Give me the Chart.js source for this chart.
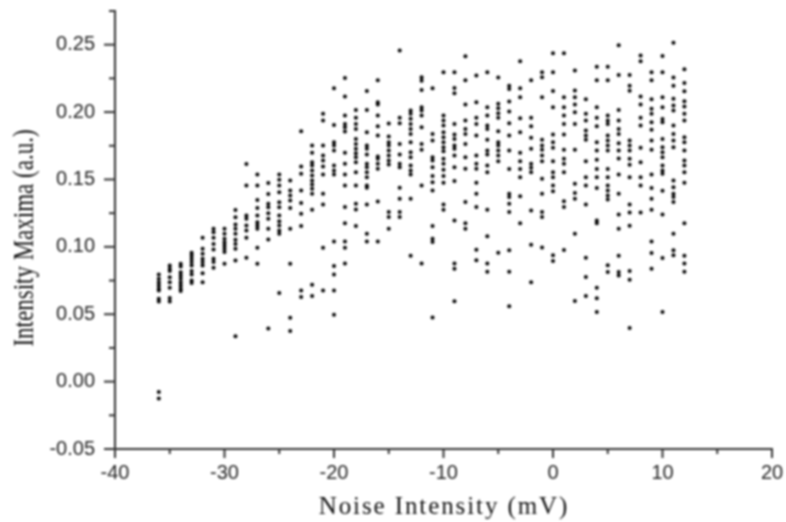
<!DOCTYPE html>
<html>
<head>
<meta charset="utf-8">
<style>
  html, body { margin: 0; padding: 0; background: #fff; }
  #wrap { width: 786px; height: 522px; }
  canvas { filter: blur(0.9px); }
</style>
<script src="https://cdn.jsdelivr.net/npm/chart.js@4"></script>
</head>
<body>
<div id="wrap"><canvas id="chart" width="786" height="522"></canvas></div>
<script>
// noise levels (mV), one column of maxima for each
const noiseLevels = [-36,-35,-34,-33,-32,-31,-30,-29,-28,-27,-26,-25,-24,-23,-22,-21,-20,-19,-18,-17,-16,-15,-14,-13,-12,-11,-10,-9,-8,-7,-6,-5,-4,-3,-2,-1,0,1,2,3,4,5,6,7,8,9,10,11,12];

const maxima = [
  [.0795,.0763,.0738,.0714,.0689,.0677,.0615,.0595,-.0077,-.0126],
  [.0862,.0837,.082,.0775,.0738,.0696,.062,.0595],
  [.0874,.0854,.0812,.0788,.0763,.0738,.0714,.0689,.0672],
  [.0956,.0936,.0911,.0887,.0862,.082,.0795,.0751,.0731],
  [.1067,.0985,.0948,.0911,.0887,.0862,.0805,.0738],
  [.1134,.1109,.1067,.1022,.098,.0911,.0887,.0845],
  [.1134,.1097,.106,.1035,.101,.0985,.0961,.0874],
  [.1274,.122,.1166,.1134,.1097,.1052,.1022,.0985,.0899,.0336],
  [.1615,.1455,.1232,.1208,.1158,.1121,.1067,.0919],
  [.1536,.1455,.1348,.1289,.1232,.1183,.1158,.1134,.0993,.0874],
  [.1474,.1393,.1319,.1294,.125,.1208,.1134,.1055,.0395],
  [.1536,.1497,.1455,.1405,.1331,.1294,.1232,.119,.1158,.1121,.1097,.0657],
  [.1492,.1418,.1381,.1344,.1289,.1134,.0874,.0474,.0375],
  [.1858,.1596,.1542,.1418,.1325,.1246,.1154,.0677,.0628],
  [.1752,.1698,.1628,.1604,.1567,.153,.1493,.1463,.1431,.1394,.1275,.0719,.0635],
  [.1987,.1937,.1752,.1678,.1641,.1596,.1537,.1394,.1315,.0994,.0677],
  [.2177,.1905,.1777,.1752,.1715,.1604,.1567,.1537,.104,.0858,.0794,.0677,.0497],
  [.2253,.2115,.1974,.1912,.1888,.1856,.1698,.1616,.1537,.1455,.1295,.1176,.104,.0994,.0877],
  [.2016,.1957,.1912,.1875,.1801,.1764,.1727,.1695,.1665,.1628,.1554,.1455,.132,.1278,.1154],
  [.2157,.2016,.1851,.1752,.1727,.1685,.1616,.1591,.1554,.1517,.1455,.1438,.1315,.1097,.104],
  [.2236,.2073,.2056,.1974,.1895,.1826,.167,.1653,.1616,.1579,.1337,.104],
  [.1915,.1819,.1777,.1752,.1715,.1678,.1641,.1611,.1258,.1221,.1134],
  [.2456,.1957,.1917,.1764,.1685,.1616,.1591,.1438,.1357,.1258,.1221],
  [.2011,.1987,.195,.1912,.1875,.1838,.1777,.1702,.1665,.1604,.1567,.1537,.1357,.0934],
  [.2258,.2233,.2164,.2036,.2011,.1974,.1888,.1764,.172,.1455,.0877],
  [.2177,.1838,.1789,.1665,.1641,.1591,.1525,.148,.1418,.1154,.106,.1036,.0475],
  [.2295,.1974,.1937,.19,.1851,.1814,.1777,.1739,.171,.1653,.1616,.1572,.1525,.1475,.1315,.1275],
  [.2295,.2179,.214,.1912,.1833,.1801,.1752,.1727,.1678,.1591,.1488,.1196,.0877,.0838,.0596],
  [.2414,.2236,.2056,.1937,.1875,.1838,.1764,.1665,.1579,.1332,.1176,.1134],
  [.2271,.2073,.1957,.1912,.1826,.1678,.1616,.1579,.1475,.1394,.1295,.0979,.09],
  [.2295,.2036,.1974,.19,.1875,.1794,.1715,.1685,.1604,.1554,.1275,.1078,.0877,.0816],
  [.2256,.2061,.2029,.1991,.1957,.1858,.1777,.1752,.1715,.1678,.1636,.0957],
  [.2196,.2172,.2078,.2004,.1917,.1826,.1715,.1577,.1394,.1369,.132,.1258,.0974,.0816,.0559],
  [.2377,.2177,.211,.1954,.1851,.1698,.1636,.1577,.1517,.1376,.1176],
  [.2236,.1957,.1895,.181,.1727,.1616,.1586,.1554,.127,.1016,.0737],
  [.2295,.2258,.211,.1794,.1752,.172,.1678,.1636,.1505,.1394,.1258,.1221,.0996],
  [.2436,.2295,.2157,.2036,.1833,.1777,.1735,.1636,.1554,.1517,.1455,.1413,.0937,.0895],
  [.2436,.211,.2036,.1974,.1912,.1833,.172,.1653,.1616,.1554,.1339,.1295,.0976],
  [.2308,.216,.211,.2056,.1999,.1912,.172,.1468,.1399,.1357,.1097,.0598],
  [.2095,.1987,.1937,.1863,.1826,.1794,.1636,.1517,.1455,.1315,.0919,.0776,.0635],
  [.2337,.2236,.2036,.1957,.1895,.1777,.1715,.1646,.1577,.1517,.1436,.1196,.1176,.0697,.0618,.0517],
  [.2337,.2236,.1974,.1937,.1912,.1826,.1789,.1752,.1715,.1577,.1517,.1455,.1418,.1381,.1352,.0863,.0813],
  [.2495,.2275,.2016,.1937,.1875,.1838,.1769,.1715,.1656,.1537,.1394,.124,.1134,.0934,.0813,.0788],
  [.2275,.2196,.2159,.1789,.1752,.1715,.1653,.1609,.1517,.1315,.1255,.1157,.0821,.0756,.0398],
  [.2419,.2377,.2115,.2056,.1957,.19,.1735,.1628,.1517,.1455,.1255],
  [.2295,.2236,.2095,.2024,.1987,.1925,.1868,.1789,.172,.1537,.1436,.1357,.1275,.104,.0954,.0838],
  [.2416,.2295,.211,.2036,.1949,.1925,.1801,.1739,.1702,.1665,.1604,.1567,.1542,.1416,.124,.0917,.0517],
  [.2515,.2256,.2196,.2098,.2048,.2011,.19,.1838,.1789,.1739,.1493,.1443,.1394,.1369,.1332,.1097,.0974,.0937],
  [.2317,.2216,.2154,.208,.2041,.1987,.1937,.1814,.1777,.1715,.1641,.1604,.1554,.1475,.1176,.0934,.0877,.0816]
];

const xLabels = [-40, -30, -20, -10, 0, 10, 20];
const yLabels = [-0.05, 0, 0.05, 0.10, 0.15, 0.20, 0.25];
const xTitle = 'Noise Intensity (mV)';
const yTitle = 'Intensity Maxima (a.u.)';

const points = [];
noiseLevels.forEach(function(x, i) {
  maxima[i].forEach(function(y) {
    points.push({ x: x, y: y });
  });
});

const inkColor = '#333';

function isLabelled(list, value) {
  return list.some(v => Math.abs(v - value) < 1e-6);
}

// Origin style ticks: long on labelled values, short in between
const originTicks = {
  id: 'originTicks',
  afterDatasetsDraw(chart) {
    const ctx = chart.ctx;
    const xScale = chart.scales.x;
    const yScale = chart.scales.y;
    ctx.save();
    ctx.strokeStyle = inkColor;
    ctx.lineWidth = 2;
    xScale.ticks.forEach(function(t) {
      const px = xScale.getPixelForValue(t.value);
      const len = isLabelled(xLabels, t.value) ? 9 : 5;
      ctx.beginPath();
      ctx.moveTo(px, xScale.top);
      ctx.lineTo(px, xScale.top + len);
      ctx.stroke();
    });
    yScale.ticks.forEach(function(t) {
      const py = yScale.getPixelForValue(t.value);
      const len = isLabelled(yLabels, t.value) ? 11 : 6;
      ctx.beginPath();
      ctx.moveTo(yScale.right, py);
      ctx.lineTo(yScale.right - len, py);
      ctx.stroke();
    });
    ctx.restore();
  }
};

// axis titles by hand, the original has them stretched compared to the font
const axisTitles = {
  id: 'axisTitles',
  afterDraw(chart) {
    const ctx = chart.ctx;
    ctx.save();
    ctx.fillStyle = '#111';
    ctx.textAlign = 'center';
    ctx.textBaseline = 'middle';

    ctx.font = '25px "Liberation Serif"';
    ctx.letterSpacing = '1.9px';
    ctx.fillText(xTitle, 444, 507);

    ctx.font = '23px "Liberation Serif"';
    ctx.letterSpacing = '0px';
    ctx.translate(25, 238);
    ctx.rotate(-Math.PI / 2);
    ctx.scale(1, 1.3);
    ctx.fillText(yTitle, 0, 0);
    ctx.restore();
  }
};

new Chart(document.getElementById('chart').getContext('2d'), {
  type: 'scatter',
  data: {
    datasets: [{
      data: points,
      pointStyle: 'circle',
      pointRadius: 2,
      backgroundColor: '#000',
      borderWidth: 0
    }]
  },
  options: {
    responsive: false,
    animation: false,
    devicePixelRatio: 1,
    layout: { padding: { top: 11, right: 14 } },
    plugins: { legend: { display: false }, tooltip: { enabled: false } },
    scales: {
      x: {
        type: 'linear',
        min: -40,
        max: 20,
        afterFit: scale => {
          scale.height = 73;
          scale.paddingLeft = 0;
          scale.paddingRight = 0;
        },
        grid: { display: false, drawTicks: false },
        border: { display: true, color: inkColor, width: 2 },
        ticks: {
          stepSize: 5,
          padding: 12,
          maxRotation: 0,
          autoSkip: false,
          color: '#222',
          font: { family: 'Liberation Sans', size: 20 },
          callback: v => isLabelled(xLabels, v) ? String(v) : ''
        }
      },
      y: {
        type: 'linear',
        min: -0.05,
        max: 0.275,
        afterFit: scale => {
          scale.width = 115;
          scale.paddingTop = 0;
          scale.paddingBottom = 0;
        },
        grid: { display: false, drawTicks: false },
        border: { display: true, color: inkColor, width: 2 },
        ticks: {
          stepSize: 0.025,
          padding: 20,
          autoSkip: false,
          color: '#222',
          font: { family: 'Liberation Sans', size: 20 },
          callback: v => isLabelled(yLabels, v) ? v.toFixed(2) : ''
        }
      }
    }
  },
  plugins: [originTicks, axisTitles]
});
</script>
</body>
</html>
